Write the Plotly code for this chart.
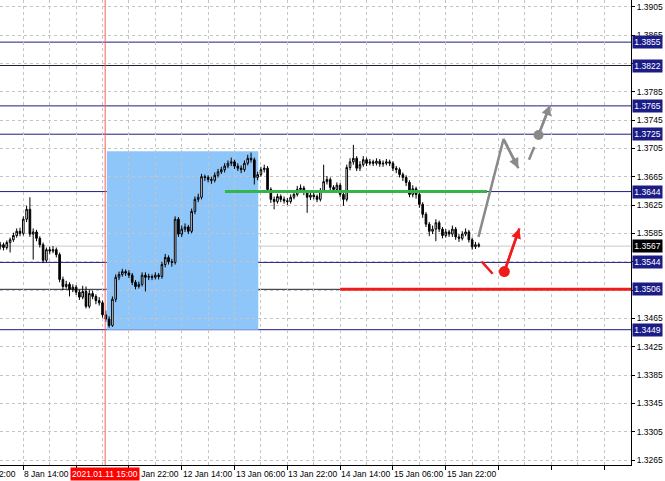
import plotly.graph_objects as go

# ---------------- data (H1 candles) ----------------
bar_start = -7
opens = [1.3566, 1.3569, 1.3565, 1.3572, 1.3576, 1.3582, 1.3588,
         1.3585, 1.3605, 1.3619, 1.3584, 1.3587, 1.3578, 1.3569, 1.3547, 1.3562, 1.3560,
         1.3562, 1.3555, 1.3520, 1.3510, 1.3513, 1.3506, 1.3509, 1.3502, 1.3495, 1.3503,
         1.3482, 1.3500, 1.3496, 1.3490, 1.3487, 1.3470, 1.3464, 1.3455, 1.3492, 1.3523,
         1.3527, 1.3531, 1.3529, 1.3526, 1.3516, 1.3510, 1.3513, 1.3526, 1.3523, 1.3524,
         1.3523, 1.3526, 1.3524, 1.3541, 1.3551, 1.3545, 1.3544, 1.3605, 1.3584, 1.3591,
         1.3594, 1.3588, 1.3616, 1.3633, 1.3636, 1.3665, 1.3664, 1.3661, 1.3660, 1.3667,
         1.3672, 1.3675, 1.3680, 1.3684, 1.3686, 1.3680, 1.3677, 1.3675, 1.3684, 1.3691,
         1.3689, 1.3664, 1.3668, 1.3675, 1.3677, 1.3647, 1.3633, 1.3630, 1.3637, 1.3633,
         1.3631, 1.3630, 1.3636, 1.3640, 1.3647, 1.3649, 1.3643, 1.3636, 1.3639, 1.3637,
         1.3633, 1.3645, 1.3658, 1.3661, 1.3650, 1.3647, 1.3653, 1.3640, 1.3633, 1.3678,
         1.3686, 1.3691, 1.3677, 1.3682, 1.3689, 1.3684, 1.3686, 1.3684, 1.3687, 1.3683,
         1.3684, 1.3686, 1.3684, 1.3677, 1.3675, 1.3668, 1.3664, 1.3657, 1.3640, 1.3648,
         1.3640, 1.3626, 1.3612, 1.3598, 1.3588, 1.3591, 1.3600, 1.3591, 1.3582, 1.3587,
         1.3584, 1.3591, 1.3580, 1.3578, 1.3584, 1.3587, 1.3576, 1.3566, 1.3569]
highs = [1.3573, 1.3572, 1.3575, 1.3579, 1.3586, 1.3592, 1.3593,
         1.3609, 1.3624, 1.3636, 1.3592, 1.3590, 1.3581, 1.3572, 1.3565, 1.3566, 1.3567,
         1.3565, 1.3558, 1.3524, 1.3518, 1.3516, 1.3513, 1.3512, 1.3505, 1.3511, 1.3510,
         1.3505, 1.3504, 1.3499, 1.3495, 1.3490, 1.3476, 1.3468, 1.3496, 1.3527, 1.3531,
         1.3535, 1.3534, 1.3533, 1.3529, 1.3519, 1.3517, 1.3530, 1.3530, 1.3528, 1.3527,
         1.3530, 1.3529, 1.3545, 1.3556, 1.3554, 1.3549, 1.3609, 1.3608, 1.3596, 1.3599,
         1.3597, 1.3620, 1.3637, 1.3641, 1.3669, 1.3668, 1.3667, 1.3665, 1.3671, 1.3676,
         1.3679, 1.3684, 1.3688, 1.3692, 1.3689, 1.3684, 1.3681, 1.3688, 1.3696, 1.3699,
         1.3692, 1.3672, 1.3679, 1.3682, 1.3680, 1.3650, 1.3637, 1.3641, 1.3640, 1.3637,
         1.3635, 1.3640, 1.3644, 1.3652, 1.3654, 1.3652, 1.3646, 1.3643, 1.3642, 1.3640,
         1.3649, 1.3682, 1.3666, 1.3664, 1.3653, 1.3657, 1.3656, 1.3643, 1.3682, 1.3691,
         1.3710, 1.3694, 1.3687, 1.3694, 1.3692, 1.3690, 1.3689, 1.3691, 1.3690, 1.3688,
         1.3690, 1.3689, 1.3687, 1.3680, 1.3678, 1.3671, 1.3667, 1.3660, 1.3653, 1.3651,
         1.3643, 1.3629, 1.3615, 1.3601, 1.3596, 1.3605, 1.3603, 1.3594, 1.3591, 1.3590,
         1.3596, 1.3594, 1.3584, 1.3588, 1.3592, 1.3590, 1.3579, 1.3573, 1.3572]
lows = [1.3562, 1.3561, 1.3562, 1.3558, 1.3573, 1.3579, 1.3581,
        1.3582, 1.3601, 1.3580, 1.3548, 1.3574, 1.3565, 1.3543, 1.3544, 1.3556, 1.3557,
        1.3551, 1.3516, 1.3505, 1.3507, 1.3496, 1.3502, 1.3498, 1.3491, 1.3492, 1.3479,
        1.3479, 1.3492, 1.3485, 1.3483, 1.3466, 1.3460, 1.3452, 1.3453, 1.3488, 1.3519,
        1.3524, 1.3525, 1.3522, 1.3512, 1.3506, 1.3507, 1.3510, 1.3503, 1.3519, 1.3519,
        1.3520, 1.3520, 1.3521, 1.3537, 1.3541, 1.3538, 1.3541, 1.3580, 1.3580, 1.3587,
        1.3584, 1.3585, 1.3612, 1.3629, 1.3633, 1.3659, 1.3657, 1.3655, 1.3657, 1.3664,
        1.3669, 1.3671, 1.3677, 1.3680, 1.3676, 1.3673, 1.3670, 1.3672, 1.3681, 1.3685,
        1.3654, 1.3660, 1.3665, 1.3671, 1.3643, 1.3628, 1.3619, 1.3627, 1.3629, 1.3627,
        1.3625, 1.3627, 1.3633, 1.3637, 1.3643, 1.3639, 1.3614, 1.3632, 1.3633, 1.3629,
        1.3630, 1.3642, 1.3654, 1.3646, 1.3643, 1.3644, 1.3636, 1.3624, 1.3630, 1.3674,
        1.3682, 1.3673, 1.3673, 1.3679, 1.3680, 1.3681, 1.3680, 1.3681, 1.3679, 1.3679,
        1.3681, 1.3680, 1.3673, 1.3670, 1.3664, 1.3659, 1.3652, 1.3636, 1.3636, 1.3634,
        1.3621, 1.3607, 1.3594, 1.3581, 1.3584, 1.3574, 1.3587, 1.3578, 1.3579, 1.3580,
        1.3580, 1.3576, 1.3573, 1.3575, 1.3581, 1.3572, 1.3562, 1.3563, 1.3565]
closes = [1.3569, 1.3565, 1.3572, 1.3576, 1.3582, 1.3588, 1.3585,
          1.3605, 1.3619, 1.3584, 1.3587, 1.3578, 1.3569, 1.3547, 1.3562, 1.3560, 1.3562,
          1.3555, 1.3520, 1.3510, 1.3513, 1.3506, 1.3509, 1.3502, 1.3495, 1.3503, 1.3482,
          1.3500, 1.3496, 1.3490, 1.3487, 1.3470, 1.3464, 1.3455, 1.3492, 1.3523, 1.3527,
          1.3531, 1.3529, 1.3526, 1.3516, 1.3510, 1.3513, 1.3526, 1.3523, 1.3524, 1.3523,
          1.3526, 1.3524, 1.3541, 1.3551, 1.3545, 1.3544, 1.3605, 1.3584, 1.3591, 1.3594,
          1.3588, 1.3616, 1.3633, 1.3636, 1.3665, 1.3664, 1.3661, 1.3660, 1.3667, 1.3672,
          1.3675, 1.3680, 1.3684, 1.3686, 1.3680, 1.3677, 1.3675, 1.3684, 1.3691, 1.3689,
          1.3664, 1.3668, 1.3675, 1.3677, 1.3647, 1.3633, 1.3630, 1.3637, 1.3633, 1.3631,
          1.3630, 1.3636, 1.3640, 1.3647, 1.3649, 1.3643, 1.3636, 1.3639, 1.3637, 1.3633,
          1.3645, 1.3658, 1.3661, 1.3650, 1.3647, 1.3653, 1.3640, 1.3633, 1.3678, 1.3686,
          1.3691, 1.3677, 1.3682, 1.3689, 1.3684, 1.3686, 1.3684, 1.3687, 1.3683, 1.3684,
          1.3686, 1.3684, 1.3677, 1.3675, 1.3668, 1.3664, 1.3657, 1.3640, 1.3648, 1.3640,
          1.3626, 1.3612, 1.3598, 1.3588, 1.3591, 1.3600, 1.3591, 1.3582, 1.3587, 1.3584,
          1.3591, 1.3580, 1.3578, 1.3584, 1.3587, 1.3576, 1.3566, 1.3569, 1.3567]
bars = list(range(bar_start, bar_start + len(closes)))

# visible time labels (the one under the red marker label is hidden in the picture)
time_tick_bars = [-16, 0, 32, 48, 64, 80, 96, 112, 128]
time_tick_labels = ["7 Jan 22:00", "8 Jan 14:00", "11 Jan 22:00",
                    "12 Jan 14:00", "13 Jan 06:00", "13 Jan 22:00", "14 Jan 14:00",
                    "15 Jan 06:00", "15 Jan 22:00"]
marker_bar = 24.8
marker_label = "2021.01.11 15:00"

# price axis ticks; those hidden behind level labels carry no text
price_ticks = [1.3265, 1.3305, 1.3345, 1.3385, 1.3425, 1.3465, 1.3505, 1.3545, 1.3585,
               1.3625, 1.3665, 1.3705, 1.3745, 1.3785, 1.3825, 1.3865, 1.3905]
price_tick_text = ["1.3265", "1.3305", "1.3345", "1.3385", "1.3425", "1.3465", "", "",
                   "1.3585", "1.3625", "1.3665", "1.3705", "1.3745", "1.3785", "",
                   "1.3865", "1.3905"]

levels_navy = [1.3855, 1.3765, 1.3725, 1.3644, 1.3544, 1.3449]
levels_dark = [1.3822, 1.3506]
level_labels = [1.3855, 1.3822, 1.3765, 1.3725, 1.3644, 1.3544, 1.3506, 1.3449]
last_price = 1.3567

box_bars = [25.3, 71.2]
box_prices = [1.3449, 1.3701]
green_bars = [61.1, 140.5]
green_price = 1.3644
red_bars = [96.0, 184.2]
red_price = 1.3506

gray_path_bars = [137.9, 145.5, 150.0]
gray_path_prices = [1.3580, 1.3718, 1.3677]
gray_dash_bars = [153.2, 154.8]
gray_dash_prices = [1.3689, 1.3707]
gray_dot = (156.1, 1.3724)
gray_tip = (159.6, 1.3766)
red_dash_bars = [138.9, 142.2]
red_dash_prices = [1.3545, 1.3528]
red_dot = (145.75, 1.3531)
red_tip = (150.3, 1.3592)

x_range = [-7.06, 184.12]
y_range = [1.325796, 1.39145]

FONT = "Liberation Sans"
FS = 8.5
NAVY = "#1c1c86"
GRID = "#c4c4c4"
GRAY = "#8a8a8a"
RED = "#f01c1c"

fig = go.Figure()

fig.add_trace(go.Candlestick(
    x=bars, open=opens, high=highs, low=lows, close=closes,
    increasing=dict(line=dict(color="black", width=1), fillcolor="white"),
    decreasing=dict(line=dict(color="black", width=1), fillcolor="black"),
    whiskerwidth=0, hoverinfo="skip", showlegend=False))

# forecast marks
fig.add_trace(go.Scatter(x=green_bars, y=[green_price] * 2, mode="lines",
                         line=dict(color="#34b44a", width=3), hoverinfo="skip"))
fig.add_trace(go.Scatter(x=red_bars, y=[red_price] * 2, mode="lines",
                         line=dict(color=RED, width=3), hoverinfo="skip"))
fig.add_trace(go.Scatter(x=gray_path_bars, y=gray_path_prices, mode="lines",
                         line=dict(color=GRAY, width=2.5), hoverinfo="skip"))
fig.add_trace(go.Scatter(x=gray_dash_bars, y=gray_dash_prices, mode="lines",
                         line=dict(color=GRAY, width=2.5), hoverinfo="skip"))
fig.add_trace(go.Scatter(x=[gray_dot[0], gray_tip[0]], y=[gray_dot[1], gray_tip[1]],
                         mode="lines", line=dict(color=GRAY, width=2.5), hoverinfo="skip"))
fig.add_trace(go.Scatter(x=[gray_dot[0]], y=[gray_dot[1]], mode="markers",
                         marker=dict(color=GRAY, size=10), hoverinfo="skip"))
fig.add_trace(go.Scatter(x=red_dash_bars, y=red_dash_prices, mode="lines",
                         line=dict(color=RED, width=2.5), hoverinfo="skip"))
fig.add_trace(go.Scatter(x=[red_dot[0], red_tip[0]], y=[red_dot[1], red_tip[1]],
                         mode="lines", line=dict(color=RED, width=2.5), hoverinfo="skip"))
fig.add_trace(go.Scatter(x=[red_dot[0]], y=[red_dot[1]], mode="markers",
                         marker=dict(color=RED, size=11), hoverinfo="skip"))

shapes = []
shapes.append(dict(type="rect", xref="x", yref="y", x0=box_bars[0], x1=box_bars[1],
                   y0=box_prices[0], y1=box_prices[1], fillcolor="#8ec6fa",
                   line=dict(width=0), layer="below"))
shapes.append(dict(type="line", xref="paper", yref="y", x0=0, x1=1, y0=last_price,
                   y1=last_price, line=dict(color="#c8c8c8", width=1), layer="between"))
for lv in levels_navy:
    shapes.append(dict(type="line", xref="paper", yref="y", x0=0, x1=1, y0=lv, y1=lv,
                       line=dict(color=NAVY, width=1), layer="between"))
for lv in levels_dark:
    shapes.append(dict(type="line", xref="paper", yref="y", x0=0, x1=1, y0=lv, y1=lv,
                       line=dict(color="#202030", width=1), layer="between"))
shapes.append(dict(type="line", xref="x", yref="paper", x0=marker_bar, x1=marker_bar,
                   y0=0, y1=1, line=dict(color="#ff5a5a", width=1), layer="above"))

annotations = []
# arrowheads
annotations.append(dict(x=gray_path_bars[-1], y=gray_path_prices[-1],
                        ax=gray_path_bars[-2], ay=gray_path_prices[-2],
                        xref="x", yref="y", axref="x", ayref="y", text="",
                        showarrow=True, arrowhead=2, arrowsize=0.8, arrowwidth=2.5,
                        arrowcolor=GRAY))
annotations.append(dict(x=gray_tip[0], y=gray_tip[1], ax=gray_dot[0], ay=gray_dot[1],
                        xref="x", yref="y", axref="x", ayref="y", text="",
                        showarrow=True, arrowhead=2, arrowsize=0.8, arrowwidth=2.5,
                        arrowcolor=GRAY))
annotations.append(dict(x=red_tip[0], y=red_tip[1], ax=red_dot[0], ay=red_dot[1],
                        xref="x", yref="y", axref="x", ayref="y", text="",
                        showarrow=True, arrowhead=2, arrowsize=0.8, arrowwidth=2.5,
                        arrowcolor=RED))

# time labels
span = x_range[1] - x_range[0]
for b, lab in zip(time_tick_bars, time_tick_labels):
    if x_range[0] <= b <= x_range[1]:
        annotations.append(dict(x=b, y=0, xref="x", yref="paper", text=lab,
                                xanchor="left", yanchor="top", xshift=-1, yshift=-2,
                                showarrow=False, font=dict(family=FONT, size=FS, color="black")))
    else:
        annotations.append(dict(x=(b - x_range[0]) / span, y=0, xref="paper", yref="paper",
                                text=lab, xanchor="left", yanchor="top", xshift=-1, yshift=-2,
                                showarrow=False, font=dict(family=FONT, size=FS, color="black")))
annotations.append(dict(x=marker_bar, y=0, xref="x", yref="paper", text=marker_label,
                        xanchor="center", yanchor="top", yshift=-2, showarrow=False,
                        bgcolor="#ff0000", borderpad=1,
                        font=dict(family=FONT, size=FS, color="white")))

# price level labels
for lv in level_labels:
    annotations.append(dict(x=1, y=lv, xref="paper", yref="y", text=f"{lv:.4f}",
                            xanchor="left", yanchor="middle", xshift=1, showarrow=False,
                            bgcolor=NAVY, borderpad=1, width=27, height=10,
                            font=dict(family=FONT, size=FS, color="white")))
annotations.append(dict(x=1, y=last_price, xref="paper", yref="y", text=f"{last_price:.4f}",
                        xanchor="left", yanchor="middle", xshift=1, showarrow=False,
                        bgcolor="black", borderpad=1, width=27, height=10,
                        font=dict(family=FONT, size=FS, color="white")))

fig.update_layout(
    width=665, height=481,
    margin=dict(l=0, r=34, t=0, b=16),
    paper_bgcolor="white", plot_bgcolor="white",
    showlegend=False,
    shapes=shapes, annotations=annotations,
    font=dict(family=FONT, size=FS, color="black"),
    xaxis=dict(range=x_range, rangeslider=dict(visible=False),
               tickmode="linear", tick0=0, dtick=16, ticks="outside", ticklen=4,
               tickcolor="black", showticklabels=False,
               showgrid=True, gridcolor=GRID, griddash="3px,3px", gridwidth=1,
               minor=dict(tick0=0, dtick=8, showgrid=True, gridcolor=GRID,
                          griddash="3px,3px", ticks=""),
               showline=True, linecolor="black", linewidth=1, zeroline=False,
               fixedrange=True, automargin=False),
    yaxis=dict(range=y_range, side="right", tickmode="array", tickvals=price_ticks,
               ticktext=price_tick_text, ticks="outside", ticklen=3, tickcolor="black",
               tickfont=dict(family=FONT, size=FS, color="black"),
               showgrid=True, gridcolor=GRID, griddash="3px,3px", gridwidth=1,
               showline=True, linecolor="black", linewidth=1, zeroline=False,
               fixedrange=True, automargin=False),
)

fig.write_html("out.html", config={"displayModeBar": False},
               post_script="document.body.style.margin='0';document.body.style.overflow='hidden';")
